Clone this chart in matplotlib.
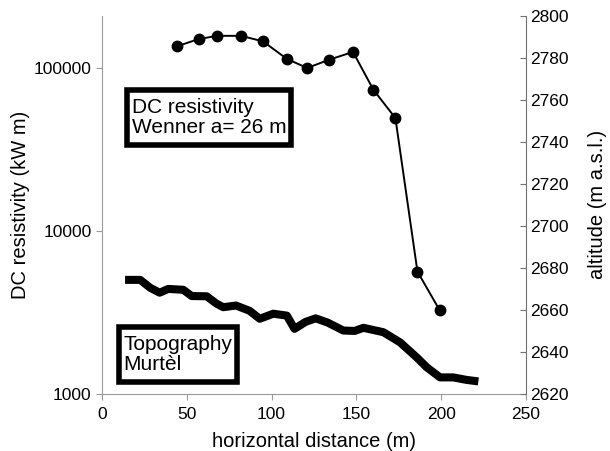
import matplotlib
matplotlib.use("Agg")
import matplotlib.pyplot as plt
from matplotlib.ticker import FixedLocator, NullLocator

plt.rcParams["font.family"] = ["Liberation Sans", "DejaVu Sans"]

# DC resistivity, Wenner a = 26 m
res_x = [44, 57, 68, 82, 95, 109, 121, 134, 148, 160, 173, 186, 199]
res_val = [136000, 151000, 158000, 158000, 146000, 114000, 100300, 112800,
           125800, 73800, 49400, 5640, 3280]

# topography profile Murtel (m a.s.l.)
topo_x = [13.6, 22.5, 28.5, 34.0, 39.0, 47.9, 52.9, 61.7, 67.5, 71.5, 79.0,
          87.0, 93.0, 101.0, 109.0, 113.5, 120.0, 126.0, 133.0, 142.3, 149.0,
          154.1, 165.9, 175.7, 185.6, 191.5, 199.3, 207.1, 215.0, 221.9]
topo_alt = [2674.3, 2674.3, 2670.5, 2668.2, 2670.0, 2669.6, 2666.6, 2666.5,
            2663.0, 2661.3, 2662.1, 2659.6, 2655.8, 2658.2, 2657.3, 2651.0,
            2654.3, 2656.0, 2654.0, 2650.2, 2650.0, 2651.5, 2649.4, 2644.6,
            2637.4, 2632.7, 2627.9, 2627.9, 2626.7, 2626.0]

x_ticks = [0, 50, 100, 150, 200, 250]
res_ticks = [1000, 10000, 100000]
alt_ticks = list(range(2620, 2801, 20))

fig = plt.figure(figsize=(6.1, 4.51), dpi=100)
ax = fig.add_axes([102 / 610, 1 - 394 / 451, 424 / 610, 378.3 / 451])
ax2 = ax.twinx()

ax.plot(res_x, res_val, color="black", lw=1.4, marker="o", ms=7.5,
        zorder=3)
ax.set_yscale("log")
ax.set_ylim(1000, 2.1e5)
ax.set_xlim(0, 250)
ax.yaxis.set_major_locator(FixedLocator(res_ticks))
ax.yaxis.set_minor_locator(NullLocator())
ax.set_yticklabels([str(t) for t in res_ticks])
ax.set_xticks(x_ticks)

ax2.plot(topo_x, topo_alt, color="black", lw=5.8, solid_capstyle="butt",
         solid_joinstyle="round")
ax2.set_ylim(2620, 2800)
ax2.set_yticks(alt_ticks)

spine_col = "#9a9a9a"
ax.spines["top"].set_visible(False)
ax2.spines["top"].set_visible(False)
for sp in ["left", "bottom"]:
    ax.spines[sp].set_color(spine_col)
ax2.spines["left"].set_visible(False)
ax2.spines["bottom"].set_visible(False)
ax.spines["right"].set_visible(False)
ax2.spines["right"].set_color("#707070")

ax.tick_params(axis="both", direction="out", length=4.5, width=0.8,
               color=spine_col, labelsize=12.5, pad=3)
ax.tick_params(axis="x", pad=5)
ax2.tick_params(axis="y", direction="in", length=4.5, width=0.8,
                color="#707070", labelsize=12.5, pad=3)

ax.set_xlabel("horizontal distance (m)", fontsize=14.5, labelpad=7)
ax.set_ylabel("DC resistivity (kW m)", fontsize=14.5, labelpad=3)
ax2.set_ylabel("altitude (m a.s.l.)", fontsize=14.5, labelpad=14)

box = dict(boxstyle="square,pad=0.22", mutation_aspect=1.7,
           facecolor="white", edgecolor="black", lw=4)
ax.text(0.070, 0.731, "DC resistivity\nWenner a= 26 m", transform=ax.transAxes,
        ha="left", va="center", fontsize=15, linespacing=1.1, bbox=box,
        zorder=5)
ax2.text(0.050, 0.104, "Topography\nMurtèl", transform=ax.transAxes,
         ha="left", va="center", fontsize=15, linespacing=1.1, bbox=box,
         zorder=5)

fig.savefig("out.png", dpi=100)
